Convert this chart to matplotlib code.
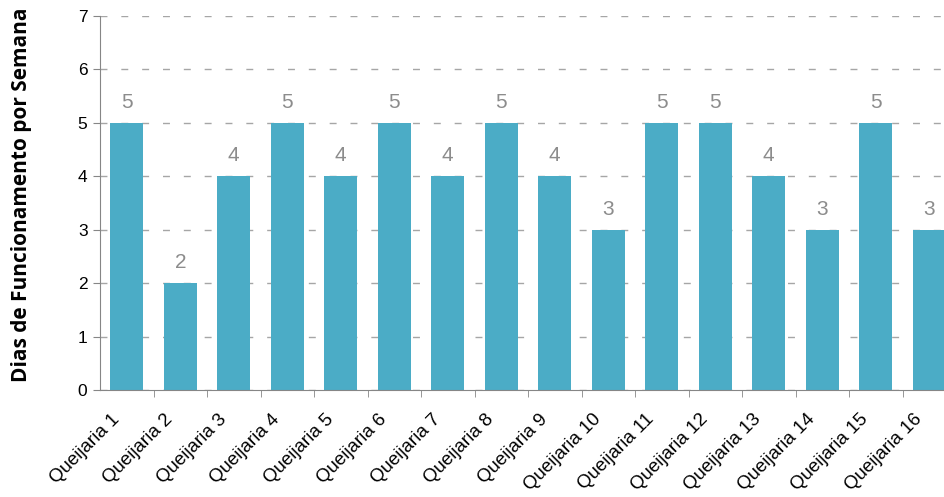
import matplotlib.pyplot as plt
import matplotlib.transforms as mtransforms
import numpy as np

plt.rcParams['font.family'] = ['Liberation Sans', 'DejaVu Sans']

# dados
queijarias = [f"Queijaria {i}" for i in range(1, 17)]
dias = [5, 2, 4, 5, 4, 5, 4, 5, 4, 3, 5, 5, 4, 3, 5, 3]

fig = plt.figure(figsize=(9.44, 4.97), dpi=100)
ax = fig.add_axes([100 / 944, 107 / 497, 856 / 944, 374 / 497])

x = np.arange(len(queijarias))
ax.bar(x, dias, width=0.62, color="#4BACC6", zorder=2)

for xi, v in zip(x, dias):
    ax.annotate(str(v), (xi, v), xytext=(0, 8), textcoords="offset points",
                ha="center", va="bottom", fontsize=15, color="#8C8C8C")

ax.set_xlim(-0.5, len(queijarias) - 0.5)
ax.set_ylim(0, 7)
ax.set_yticks(range(0, 8))
ax.tick_params(axis="y", labelsize=12.5, length=5, color="#868686", pad=4)

ax.set_xticks(x)
ax.set_xticklabels(queijarias, rotation=45, ha="right", rotation_mode="anchor", fontsize=13.5)
ax.set_xticks(np.arange(0.5, len(queijarias), 1), minor=True)
ax.tick_params(axis="x", which="major", length=0, pad=15)
ax.tick_params(axis="x", which="minor", length=5, color="#868686")
shift = mtransforms.ScaledTranslation(-16 / 100, 0, fig.dpi_scale_trans)
for lbl in ax.get_xticklabels():
    lbl.set_transform(lbl.get_transform() + shift)

ax.yaxis.grid(True, linestyle=(0, (5, 10)), color="#A6A6A6", linewidth=1, zorder=0)
ax.set_axisbelow(True)

for s in ["top", "right"]:
    ax.spines[s].set_visible(False)
ax.spines["left"].set_color("#868686")
ax.spines["bottom"].set_color("#868686")

ax.set_ylabel("Dias de Funcionamento por Semana", fontsize=15, fontweight="bold",
              family=["Open Sans", "DejaVu Sans"])
ax.yaxis.set_label_coords(-0.079, 0.521)

fig.savefig("out.png", dpi=100)
